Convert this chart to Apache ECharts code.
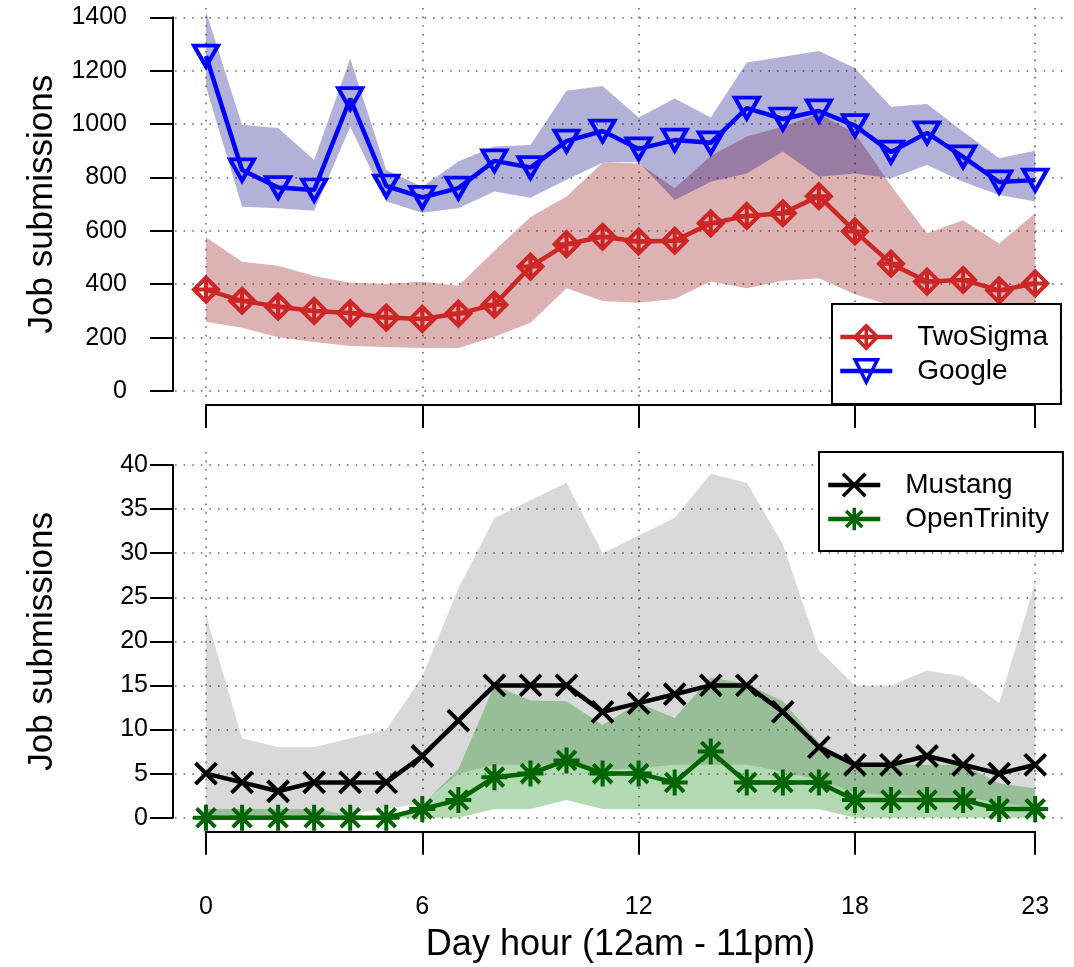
<!DOCTYPE html>
<html>
<head>
<meta charset="utf-8">
<script src="https://cdn.jsdelivr.net/npm/echarts@6/dist/echarts.min.js"></script>
<style>
  html, body { margin: 0; padding: 0; background: #fff; }
  #chart { width: 1074px; height: 967px; }
</style>
</head>
<body>
<div id="chart"></div>
<script>
// hours of the day
const hours = [0, 1, 2, 3, 4, 5, 6, 7, 8, 9, 10, 11, 12, 13, 14, 15, 16, 17, 18, 19, 20, 21, 22, 23];
const hourTicks = [0, 6, 12, 18, 23];

// top panel
const twoSigma     = [380, 338, 316, 300, 292, 275, 270, 290, 323, 466, 550, 578, 560, 563, 628, 656, 666, 730, 598, 477, 410, 416, 377, 403];
const twoSigmaLow  = [259, 237, 201, 184, 169, 165, 161, 161, 203, 256, 385, 337, 331, 345, 410, 385, 413, 422, 362, 320, 290, 300, 270, 290];
const twoSigmaHigh = [576, 484, 469, 431, 406, 402, 409, 394, 525, 652, 729, 855, 853, 760, 880, 953, 990, 1040, 966, 770, 590, 640, 553, 666];
const google       = [1255, 828, 762, 753, 1095, 768, 725, 760, 862, 837, 936, 974, 907, 940, 930, 1060, 1019, 1049, 994, 895, 967, 877, 783, 790];
const googleLow    = [1140, 690, 685, 675, 990, 710, 668, 685, 747, 724, 791, 855, 858, 716, 784, 815, 897, 803, 815, 797, 847, 784, 734, 710];
const googleHigh   = [1421, 997, 985, 865, 1246, 828, 765, 860, 916, 922, 1125, 1143, 1025, 1096, 1025, 1231, 1252, 1274, 1210, 1065, 1075, 972, 872, 900];
const topTicks = [0, 200, 400, 600, 800, 1000, 1200, 1400];

// bottom panel
const mustang      = [5, 4, 3, 4, 4, 4, 7, 11, 15, 15, 15, 12, 13, 14, 15, 15, 12, 8, 6, 6, 7, 6, 5, 6];
const mustangLow   = [0, 0, 0, 0, 0.5, 1, 1.6, 5, 6, 6, 6, 5.4, 5.6, 6, 6, 6, 5.2, 4.3, 2.8, 2.6, 2.4, 2.4, 1.6, 1.2];
const mustangHigh  = [23, 9, 8, 8, 9, 10, 16, 26, 34, 36, 38, 30, 32, 34, 39, 38, 31, 19, 15, 15, 16.7, 16, 13, 26.7];
const openTrinity     = [0, 0, 0, 0, 0, 0, 1, 2, 4.6, 5, 6.5, 5, 5, 4, 7.5, 4, 4, 4, 2, 2, 2, 2, 1, 1];
const openTrinityLow  = [0, 0, 0, 0, 0, 0, 0, 0, 1, 1, 2, 1, 1, 1, 1, 1, 1, 1, 0, 0, 0, 0, 0, 0];
const openTrinityHigh = [1, 1, 1, 1, 0.3, 0, 1.5, 5.5, 15, 13.3, 13.2, 10.5, 13, 11.3, 15.9, 15.2, 13.2, 8.5, 6, 6, 6, 6, 3.9, 3.3];
const bottomTicks = [0, 5, 10, 15, 20, 25, 30, 35, 40];

// layout (pixels)
const W = 1074;
const xLeft = 206, xRight = 1035.2;          // hour 0 .. hour 23
const frameLeft = 175, frameRight = 1066;    // dotted grid extent
const topY0 = 391, topY1 = 17.3;             // 0 .. 1400
const topFrameTop = 8, topFrameBottom = 398;
const botY0 = 817.7, botY1 = 465;            // 0 .. 40
const botFrameTop = 452, botFrameBottom = 823;

const pxPerHour = (xRight - xLeft) / 23;
const frameXMin = (frameLeft - xLeft) / pxPerHour;
const frameXMax = (frameRight - xLeft) / pxPerHour;
const topPx = (topY0 - topY1) / 1400;
const botPx = (botY0 - botY1) / 40;

const font = 'Liberation Sans, Arial, sans-serif';
const dotted = { color: '#6a6a6a', width: 1.6, type: [1.6, 7] };

const diamondPlus = 'path://M0,-1 L1,0 L0,1 L-1,0 Z M0,-1 L0,1 M-1,0 L1,0';
const downTriangle = 'path://M-1,-0.85 L1,-0.85 L0,0.85 Z';
const cross = 'path://M-1,-1 L1,1 M1,-1 L-1,1';
const asterisk = 'path://M0,-1 L0,1 M-1,0 L1,0 M-0.72,-0.72 L0.72,0.72 M0.72,-0.72 L-0.72,0.72';

function pairs(vals) {
    return hours.map((h, i) => [h, vals[i]]);
}

function band(axis, low, high, fill) {
    return {
        type: 'custom',
        xAxisIndex: axis,
        yAxisIndex: axis,
        silent: true,
        z: 1,
        data: [[hours[0], low[0]]],
        renderItem: function (params, api) {
            let pts = [];
            for (let i = 0; i < hours.length; i++) pts.push(api.coord([hours[i], high[i]]));
            for (let i = hours.length - 1; i >= 0; i--) pts.push(api.coord([hours[i], low[i]]));
            return { type: 'polygon', shape: { points: pts }, style: { fill: fill } };
        }
    };
}

function line(axis, name, vals, color, symbol, size) {
    return {
        type: 'line',
        name: name,
        xAxisIndex: axis,
        yAxisIndex: axis,
        data: pairs(vals),
        color: color,
        clip: false,
        z: 3,
        symbol: symbol,
        symbolSize: size,
        showAllSymbol: true,
        lineStyle: { color: color, width: 4.5 },
        itemStyle: { color: 'rgba(0,0,0,0)', borderColor: color, borderWidth: 4 },
        emphasis: { disabled: true }
    };
}

function dataXAxis(gridIndex, showLabels) {
    return {
        type: 'value', gridIndex: gridIndex, min: 0, max: 23, offset: 14,
        axisLine: { show: true, onZero: false, lineStyle: { color: '#000', width: 2 } },
        axisTick: { show: true, length: 23, customValues: hourTicks, lineStyle: { color: '#000', width: 2 } },
        axisLabel: { show: showLabels, customValues: hourTicks, margin: 63, color: '#000', fontSize: 25, fontFamily: font },
        splitLine: { show: false },
        name: showLabels ? 'Day hour (12am - 11pm)' : '',
        nameLocation: 'middle', nameGap: 95,
        nameTextStyle: { color: '#000', fontSize: 36, fontFamily: font }
    };
}

function dataYAxis(gridIndex, max, interval, labelMargin) {
    return {
        type: 'value', gridIndex: gridIndex, min: 0, max: max, interval: interval, offset: 33,
        axisLine: { show: true, onZero: false, lineStyle: { color: '#000', width: 2 } },
        axisTick: { show: true, length: 23, lineStyle: { color: '#000', width: 2 } },
        axisLabel: { margin: labelMargin, color: '#000', fontSize: 25, fontFamily: font, formatter: v => String(v) },
        splitLine: { show: false },
        name: 'Job submissions', nameLocation: 'middle', nameGap: 113,
        nameTextStyle: { color: '#000', fontSize: 35, fontFamily: font }
    };
}

function frameXAxis(gridIndex) {
    return {
        type: 'value', gridIndex: gridIndex, min: frameXMin, max: frameXMax,
        axisLine: { show: false },
        axisTick: { show: false, customValues: hourTicks },
        axisLabel: { show: false, customValues: hourTicks },
        splitLine: { show: true, lineStyle: dotted }
    };
}

function frameYAxis(gridIndex, ymin, ymax, ticks) {
    return {
        type: 'value', gridIndex: gridIndex, min: ymin, max: ymax,
        axisLine: { show: false },
        axisTick: { show: false, customValues: ticks },
        axisLabel: { show: false, customValues: ticks },
        splitLine: { show: true, lineStyle: dotted }
    };
}

const legendBase = {
    orient: 'vertical',
    backgroundColor: '#fff',
    borderColor: '#000',
    borderWidth: 2,
    borderRadius: 0,
    itemWidth: 52,
    itemHeight: 28,
    itemGap: 6,
    selectedMode: false,
    lineStyle: { width: 4.5 },
    itemStyle: { borderWidth: 3.5 },
    textStyle: { color: '#000', fontSize: 28, fontFamily: font, padding: [0, 0, 0, 20] }
};

const option = {
    animation: false,
    backgroundColor: '#fff',
    grid: [
        { left: xLeft, right: W - xRight, top: topY1, height: topY0 - topY1 },
        { left: xLeft, right: W - xRight, top: botY1, height: botY0 - botY1 },
        { left: frameLeft, right: W - frameRight, top: topFrameTop, height: topFrameBottom - topFrameTop },
        { left: frameLeft, right: W - frameRight, top: botFrameTop, height: botFrameBottom - botFrameTop }
    ],
    xAxis: [
        dataXAxis(0, false),
        dataXAxis(1, true),
        frameXAxis(2),
        frameXAxis(3)
    ],
    yAxis: [
        dataYAxis(0, 1400, 200, 46),
        dataYAxis(1, 40, 5, 25),
        frameYAxis(2, (topY0 - topFrameBottom) / topPx, (topY0 - topFrameTop) / topPx, topTicks),
        frameYAxis(3, (botY0 - botFrameBottom) / botPx, (botY0 - botFrameTop) / botPx, bottomTicks)
    ],
    legend: [
        Object.assign({}, legendBase, {
            data: ['TwoSigma', 'Google'],
            left: 832, top: 304,
            padding: [19, 13, 19, 6]
        }),
        Object.assign({}, legendBase, {
            data: ['Mustang', 'OpenTrinity'],
            left: 819, top: 452,
            padding: [19, 14, 18, 7]
        })
    ],
    series: [
        band(0, twoSigmaLow, twoSigmaHigh, 'rgba(139,0,0,0.3)'),
        band(0, googleLow, googleHigh, 'rgba(0,0,130,0.3)'),
        line(0, 'TwoSigma', twoSigma, '#CD2626', diamondPlus, 24),
        line(0, 'Google', google, '#0000FF', downTriangle, [24, 21]),
        band(1, mustangLow, mustangHigh, 'rgba(0,0,0,0.15)'),
        band(1, openTrinityLow, openTrinityHigh, 'rgba(0,128,0,0.3)'),
        line(1, 'Mustang', mustang, '#000000', cross, 21),
        line(1, 'OpenTrinity', openTrinity, '#006400', asterisk, 26)
    ]
};

const chart = echarts.init(document.getElementById('chart'), null, { renderer: 'canvas' });
chart.setOption(option);
</script>
</body>
</html>
